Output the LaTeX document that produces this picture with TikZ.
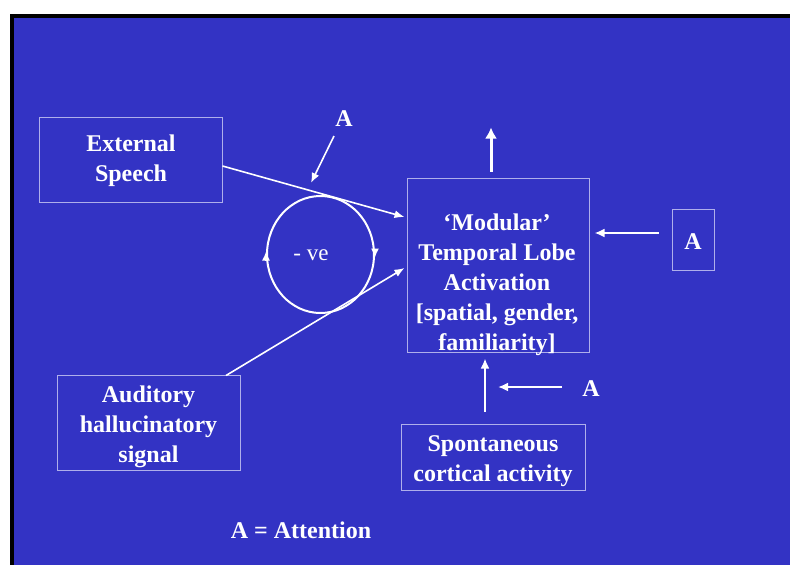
\documentclass[tikz,border=0pt]{standalone}
\usepackage{fontspec}
\setmainfont{Liberation Serif}
\usetikzlibrary{arrows.meta,shapes.geometric}
\definecolor{bg}{RGB}{51,51,196}
\definecolor{boxline}{RGB}{175,175,235}
\begin{document}
\begin{tikzpicture}[x=1pt,y=-1pt,
  txt/.style={text=white,font=\bfseries\fontsize{24}{30}\selectfont,align=center,inner sep=0pt},
  box/.style={draw=boxline,line width=1pt,inner sep=0pt},
  arr/.style={draw=white,line width=2pt,-{Latex[length=10pt,width=9pt]}},
  thin/.style={draw=white,line width=1.6pt,-{Latex[length=10pt,width=8pt]}}]
\useasboundingbox (0,0) rectangle (790,565);
\fill[white] (0,0) rectangle (790,565);
\fill[black] (10,14) rectangle (790,565);
\fill[bg] (14,18) rectangle (790,565);

% boxes
\node[box,minimum width=183pt,minimum height=85pt] (es) at (130.5,159.5) {};
\node[txt] (estext) at (131,161) {External\\Speech};
\node[box,minimum width=182pt,minimum height=174pt] (tl) at (498,265) {};
\node[txt] (tltext) at (497,285) {‘Modular’\\Temporal Lobe\\Activation\\{}[spatial, gender,\\familiarity]};
\node[box,minimum width=42pt,minimum height=61pt] (aR) at (693,239.5) {};
\node[txt] (aRtext) at (693,242) {A};
\node[box,minimum width=184pt,minimum height=66pt] (sp) at (493,457) {};
\node[txt] (sptext) at (493,461.5) {Spontaneous\\cortical activity};
\node[box,minimum width=183pt,minimum height=95pt] (au) at (148.5,422.5) {};
\node[txt] (autext) at (148.5,427) {Auditory\\hallucinatory\\signal};

% loop
\node[draw=white,line width=2pt,ellipse,minimum width=107pt,minimum height=117pt,inner sep=0pt] (loop) at (320.5,254.5) {};
\node[text=white,font=\fontsize{23}{26}\selectfont,inner sep=0pt] (ve) at (311,255) {- ve};
\draw[white,line width=1.5pt,-{Latex[length=9pt,width=8pt]}] ([yshift=-6pt]loop.west) -- ([yshift=3pt]loop.west);
\draw[white,line width=1.5pt,-{Latex[length=9pt,width=8pt]}] ([yshift=6pt]loop.east) -- ([yshift=-3pt]loop.east);

% labels
\node[txt] (aC) at (344,119) {A};
\node[txt] (aS) at (591,389) {A};
\node[txt] (att) at (301,530) {A = Attention};

% connectors
\draw[thin] ([yshift=-6.5pt]es.east) -- ([shift={(-2,-48)}]tl.west);
\draw[thin] ([xshift=77.5pt,yshift=-1pt]au.north) -- ([shift={(-2,3)}]tl.west);
\draw[thin] ([shift={(-10,17)}]aC.center) -- ([shift={(-33,64)}]aC.center);
\draw[arr,line width=3pt,-{Latex[length=11pt,width=12pt]}] ([shift={(-7,-6)}]tl.north) -- ([shift={(-7,-50)}]tl.north);
\draw[arr] ([shift={(-13,-6.5)}]aR.west) -- ([shift={(5,-32)}]tl.east);
\draw[arr] ([shift={(-8,-12)}]sp.north) -- ([shift={(-13,6)}]tl.south);
\draw[arr] ([shift={(-29,-2)}]aS.center) -- ([shift={(-93,-2)}]aS.center);
\end{tikzpicture}
\end{document}
